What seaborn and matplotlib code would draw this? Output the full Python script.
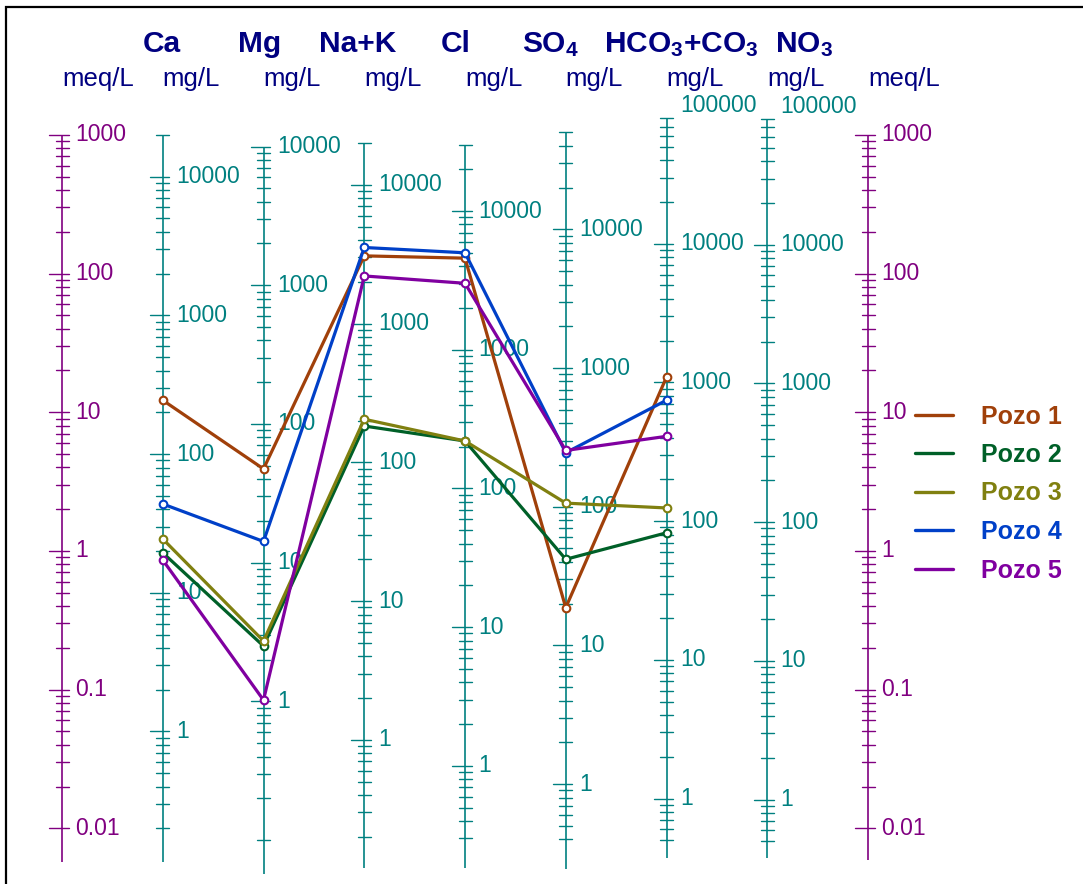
import numpy as np
import pandas as pd
import matplotlib
matplotlib.use("Agg")
import matplotlib.pyplot as plt
from matplotlib.lines import Line2D
from matplotlib.patches import Rectangle
import seaborn as sns

# ---------------------------------------------------------------- data
ions = ["Ca", "Mg", "Na+K", "Cl", "SO4", "HCO3+CO3", "NO3"]
ion_titles = ["Ca", "Mg", "Na+K", "Cl", "SO$_4$", "HCO$_3$+CO$_3$", "NO$_3$"]
eq_weight = [20.04, 12.15, 23.0, 35.45, 48.03, 61.02, 62.0]   # mg per meq

wells = ["Pozo 1", "Pozo 2", "Pozo 3", "Pozo 4", "Pozo 5"]
well_colors = ["#A0400A", "#006028", "#808010", "#0040C8", "#8000A0"]

# concentrations in meq/L for Ca, Mg, Na+K, Cl, SO4, HCO3+CO3
pozo1 = [12.2, 3.90, 134.0, 129.0, 0.39, 17.9]
pozo2 = [0.97, 0.206, 7.95, 6.2, 0.87, 1.35]
pozo3 = [1.22, 0.224, 8.9, 6.2, 2.21, 2.04]
pozo4 = [2.18, 1.17, 154.0, 141.0, 5.1, 12.2]
pozo5 = [0.86, 0.084, 96.0, 85.0, 5.3, 6.7]
well_values = [pozo1, pozo2, pozo3, pozo4, pozo5]

# mg/L tick ranges and labelled decades of each ion scale
tick_lo = [0.2, 0.1, 0.2, 0.3, 0.4, 0.5, 0.5]
tick_hi = [20000, 10000, 20000, 30000, 50000, 80000, 80000]
label_decades = [
    [1, 10, 100, 1000, 10000],
    [1, 10, 100, 1000, 10000],
    [1, 10, 100, 1000, 10000],
    [1, 10, 100, 1000, 10000],
    [1, 10, 100, 1000, 10000],
    [1, 10, 100, 1000, 10000, 100000],
    [1, 10, 100, 1000, 10000, 100000],
]
meq_labels = [0.01, 0.1, 1, 10, 100, 1000]
meq_label_text = ["0.01", "0.1", "1", "10", "100", "1000"]

# ---------------------------------------------------------------- layout
W, H = 1083, 884
X0_PX, DX_PX = 62.0, 100.75          # first scale and spacing between scales
Y_REF_PX, DEC_PX = 828.3, 138.7      # 0.01 meq/L position and decade height


def px_x(p):
    return (p - X0_PX) / DX_PX


def meq_at(py):
    return 10 ** ((Y_REF_PX - py) / DEC_PX - 2)


# bottom end of each vertical scale line (meq/L), left meq, ions, right meq
line_bottom = [0.0057, 0.0057, 0.0047, 0.0052, 0.0052, 0.0051, 0.0061, 0.0061, 0.0059]

NAVY = "#000080"
TEAL = "#008080"
PURPLE = "#800080"

sns.set_style("white")
plt.rcParams["font.family"] = ["Liberation Sans", "DejaVu Sans"]
plt.rcParams["mathtext.fontset"] = "custom"
plt.rcParams["mathtext.rm"] = "Liberation Sans:bold"
plt.rcParams["mathtext.bf"] = "Liberation Sans:bold"
plt.rcParams["mathtext.default"] = "bf"

fig = plt.figure(figsize=(W / 100, H / 100), dpi=100)
ax = fig.add_axes([0, 0, 1, 1])
ax.set_yscale("log")
ax.set_xlim(px_x(0), px_x(W))
ax.set_ylim(meq_at(H), meq_at(0))
ax.axis("off")

# ---------------------------------------------------------------- wells
rows = []
for name, vals in zip(wells, well_values):
    for i, v in enumerate(vals):
        rows.append({"pos": i + 1, "meq": v, "well": name})
df = pd.DataFrame(rows)

sns.lineplot(data=df, x="pos", y="meq", hue="well", hue_order=wells,
             palette=dict(zip(wells, well_colors)), estimator=None,
             marker="o", markersize=5.5, linewidth=2.3, legend=False, ax=ax)
for ln in ax.get_lines():
    ln.set_markerfacecolor("white")
    ln.set_markeredgecolor(ln.get_color())
    ln.set_markeredgewidth(1.5)
    ln.set_zorder(5)
ax.set_xlim(px_x(0), px_x(W))
ax.set_ylim(meq_at(H), meq_at(0))

# ---------------------------------------------------------------- scales
MAJ_L = 13 / DX_PX
MIN_L = 6.5 / DX_PX
LBL_DX = 13.5 / DX_PX


def tick_values(lo, hi):
    vals = []
    for d in range(int(np.floor(np.log10(lo))) - 1, int(np.ceil(np.log10(hi))) + 1):
        for m in range(1, 10):
            v = m * 10.0 ** d
            if lo * (1 - 1e-9) <= v <= hi * (1 + 1e-9):
                vals.append(v)
    return vals


def draw_scale(x, factor, lo, hi, labels, texts, color, bottom):
    top = hi / factor
    ax.plot([x, x], [bottom, top], color=color, lw=1.2, zorder=2,
            solid_capstyle="butt")
    majors = set(np.round(labels, 6))
    for v in tick_values(lo, hi):
        y = v / factor
        if np.round(v, 6) in majors:
            ax.plot([x - MAJ_L, x + MIN_L], [y, y], color=color, lw=1.0, zorder=2)
        else:
            ax.plot([x - MIN_L, x + MIN_L], [y, y], color=color, lw=1.0, zorder=2)
    for v, t in zip(labels, texts):
        ax.text(x + LBL_DX, v / factor, t, color=color, fontsize=16.5,
                ha="left", va="center", zorder=3)


# meq/L scales on both sides
for x in [0, 8]:
    draw_scale(x, 1.0, 0.01, 1000, meq_labels, meq_label_text, PURPLE,
               line_bottom[x])

# mg/L scales for each ion
for i, ion in enumerate(ions):
    labs = label_decades[i]
    draw_scale(i + 1, eq_weight[i], tick_lo[i], tick_hi[i], labs,
               [f"{v:d}" for v in labs], TEAL, line_bottom[i + 1])

# ---------------------------------------------------------------- headers
title_x_px = [162, 260, 358, 456, 550, 681, 804]
for t, xp in zip(ion_titles, title_x_px):
    ax.text(px_x(xp), meq_at(52), t, color=NAVY, fontsize=21.5,
            fontweight="bold", ha="center", va="baseline")

units = ["meq/L"] + ["mg/L"] * len(ions) + ["meq/L"]
for k, u in enumerate(units):
    ax.text(k, meq_at(86), u, color=NAVY, fontsize=18.5,
            ha="left", va="baseline")

# ---------------------------------------------------------------- legend
handles = [Line2D([], [], color=c, lw=2.4) for c in well_colors]
ax.legend(handles, wells, loc="center left",
          bbox_to_anchor=(px_x(915), meq_at(493.5)), bbox_transform=ax.transData,
          frameon=False, prop={"weight": "bold", "size": 18},
          labelcolor="linecolor", handlelength=1.52, handletextpad=1.12,
          labelspacing=0.58, borderpad=0, borderaxespad=0)

# outer frame
fig.add_artist(Rectangle((6 / W, -0.05), 1.2, (H - 6.5) / H + 0.05,
                         transform=fig.transFigure, fill=False,
                         lw=1.6, ec="black"))

fig.savefig("out.png", dpi=100)
